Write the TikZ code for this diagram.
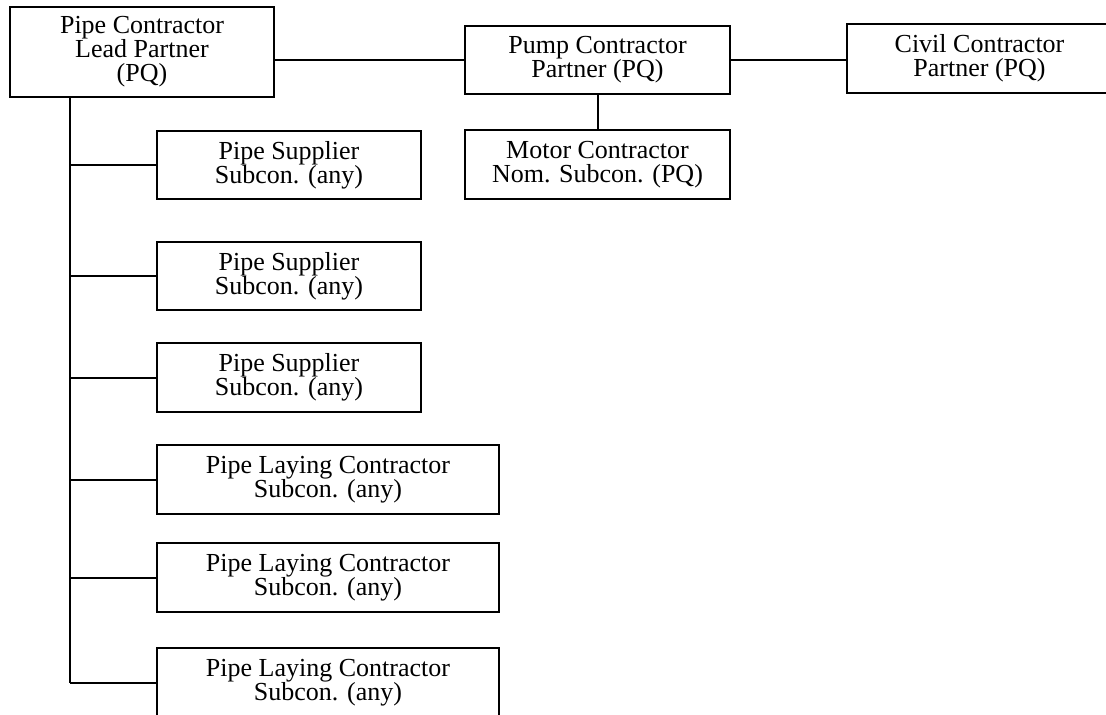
\documentclass[tikz,border=0pt]{standalone}
\usepackage{fontspec}
\setmainfont{Liberation Serif}
\begin{document}
\begin{tikzpicture}[x=1pt,y=-1pt,
  box/.style={draw,line width=2pt,inner sep=0pt,align=center,
    font=\fontsize{26}{24}\selectfont},
  conn/.style={line width=2pt}]
\useasboundingbox (0,0) rectangle (1106,715);
\clip (0,0) rectangle (1106,715);
% top row
\node[box,minimum width=264,minimum height=90] (lead) at (142,52) {Pipe Contractor\\Lead Partner\\(PQ)};
\node[box,minimum width=265,minimum height=68] (pump) at (597.5,60) {Pump Contractor\\Partner (PQ)};
\node[box,minimum width=265,minimum height=69] (civil) at (979.5,58.5) {Civil Contractor\\Partner (PQ)};
\node[box,minimum width=265,minimum height=69] (motor) at (597.5,164.5) {Motor Contractor\\Nom. Subcon. (PQ)};
% subcontractors
\node[box,minimum width=264,minimum height=68] (ps1) at (289,165) {Pipe Supplier\\Subcon. (any)};
\node[box,minimum width=264,minimum height=68] (ps2) at (289,276) {Pipe Supplier\\Subcon. (any)};
\node[box,minimum width=264,minimum height=69] (ps3) at (289,377.5) {Pipe Supplier\\Subcon. (any)};
\node[box,minimum width=342,minimum height=69] (pl1) at (328,479.5) {Pipe Laying Contractor\\Subcon. (any)};
\node[box,minimum width=342,minimum height=69] (pl2) at (328,577.5) {Pipe Laying Contractor\\Subcon. (any)};
\node[box,minimum width=342,minimum height=69] (pl3) at (328,682.5) {Pipe Laying Contractor\\Subcon. (any)};
% connectors
\draw[conn] (pump.west) -- (pump.west -| lead.east);
\draw[conn] (pump.east) -- (pump.east -| civil.west);
\draw[conn] (pump.south) -- (motor.north);
\coordinate (trunk) at (70,0);
\draw[conn] (trunk |- lead.south) -- (trunk |- pl3.west);
\foreach \n in {ps1,ps2,ps3,pl1,pl2,pl3}
  \draw[conn] (trunk |- \n.west) -- (\n.west);
\end{tikzpicture}
\end{document}
